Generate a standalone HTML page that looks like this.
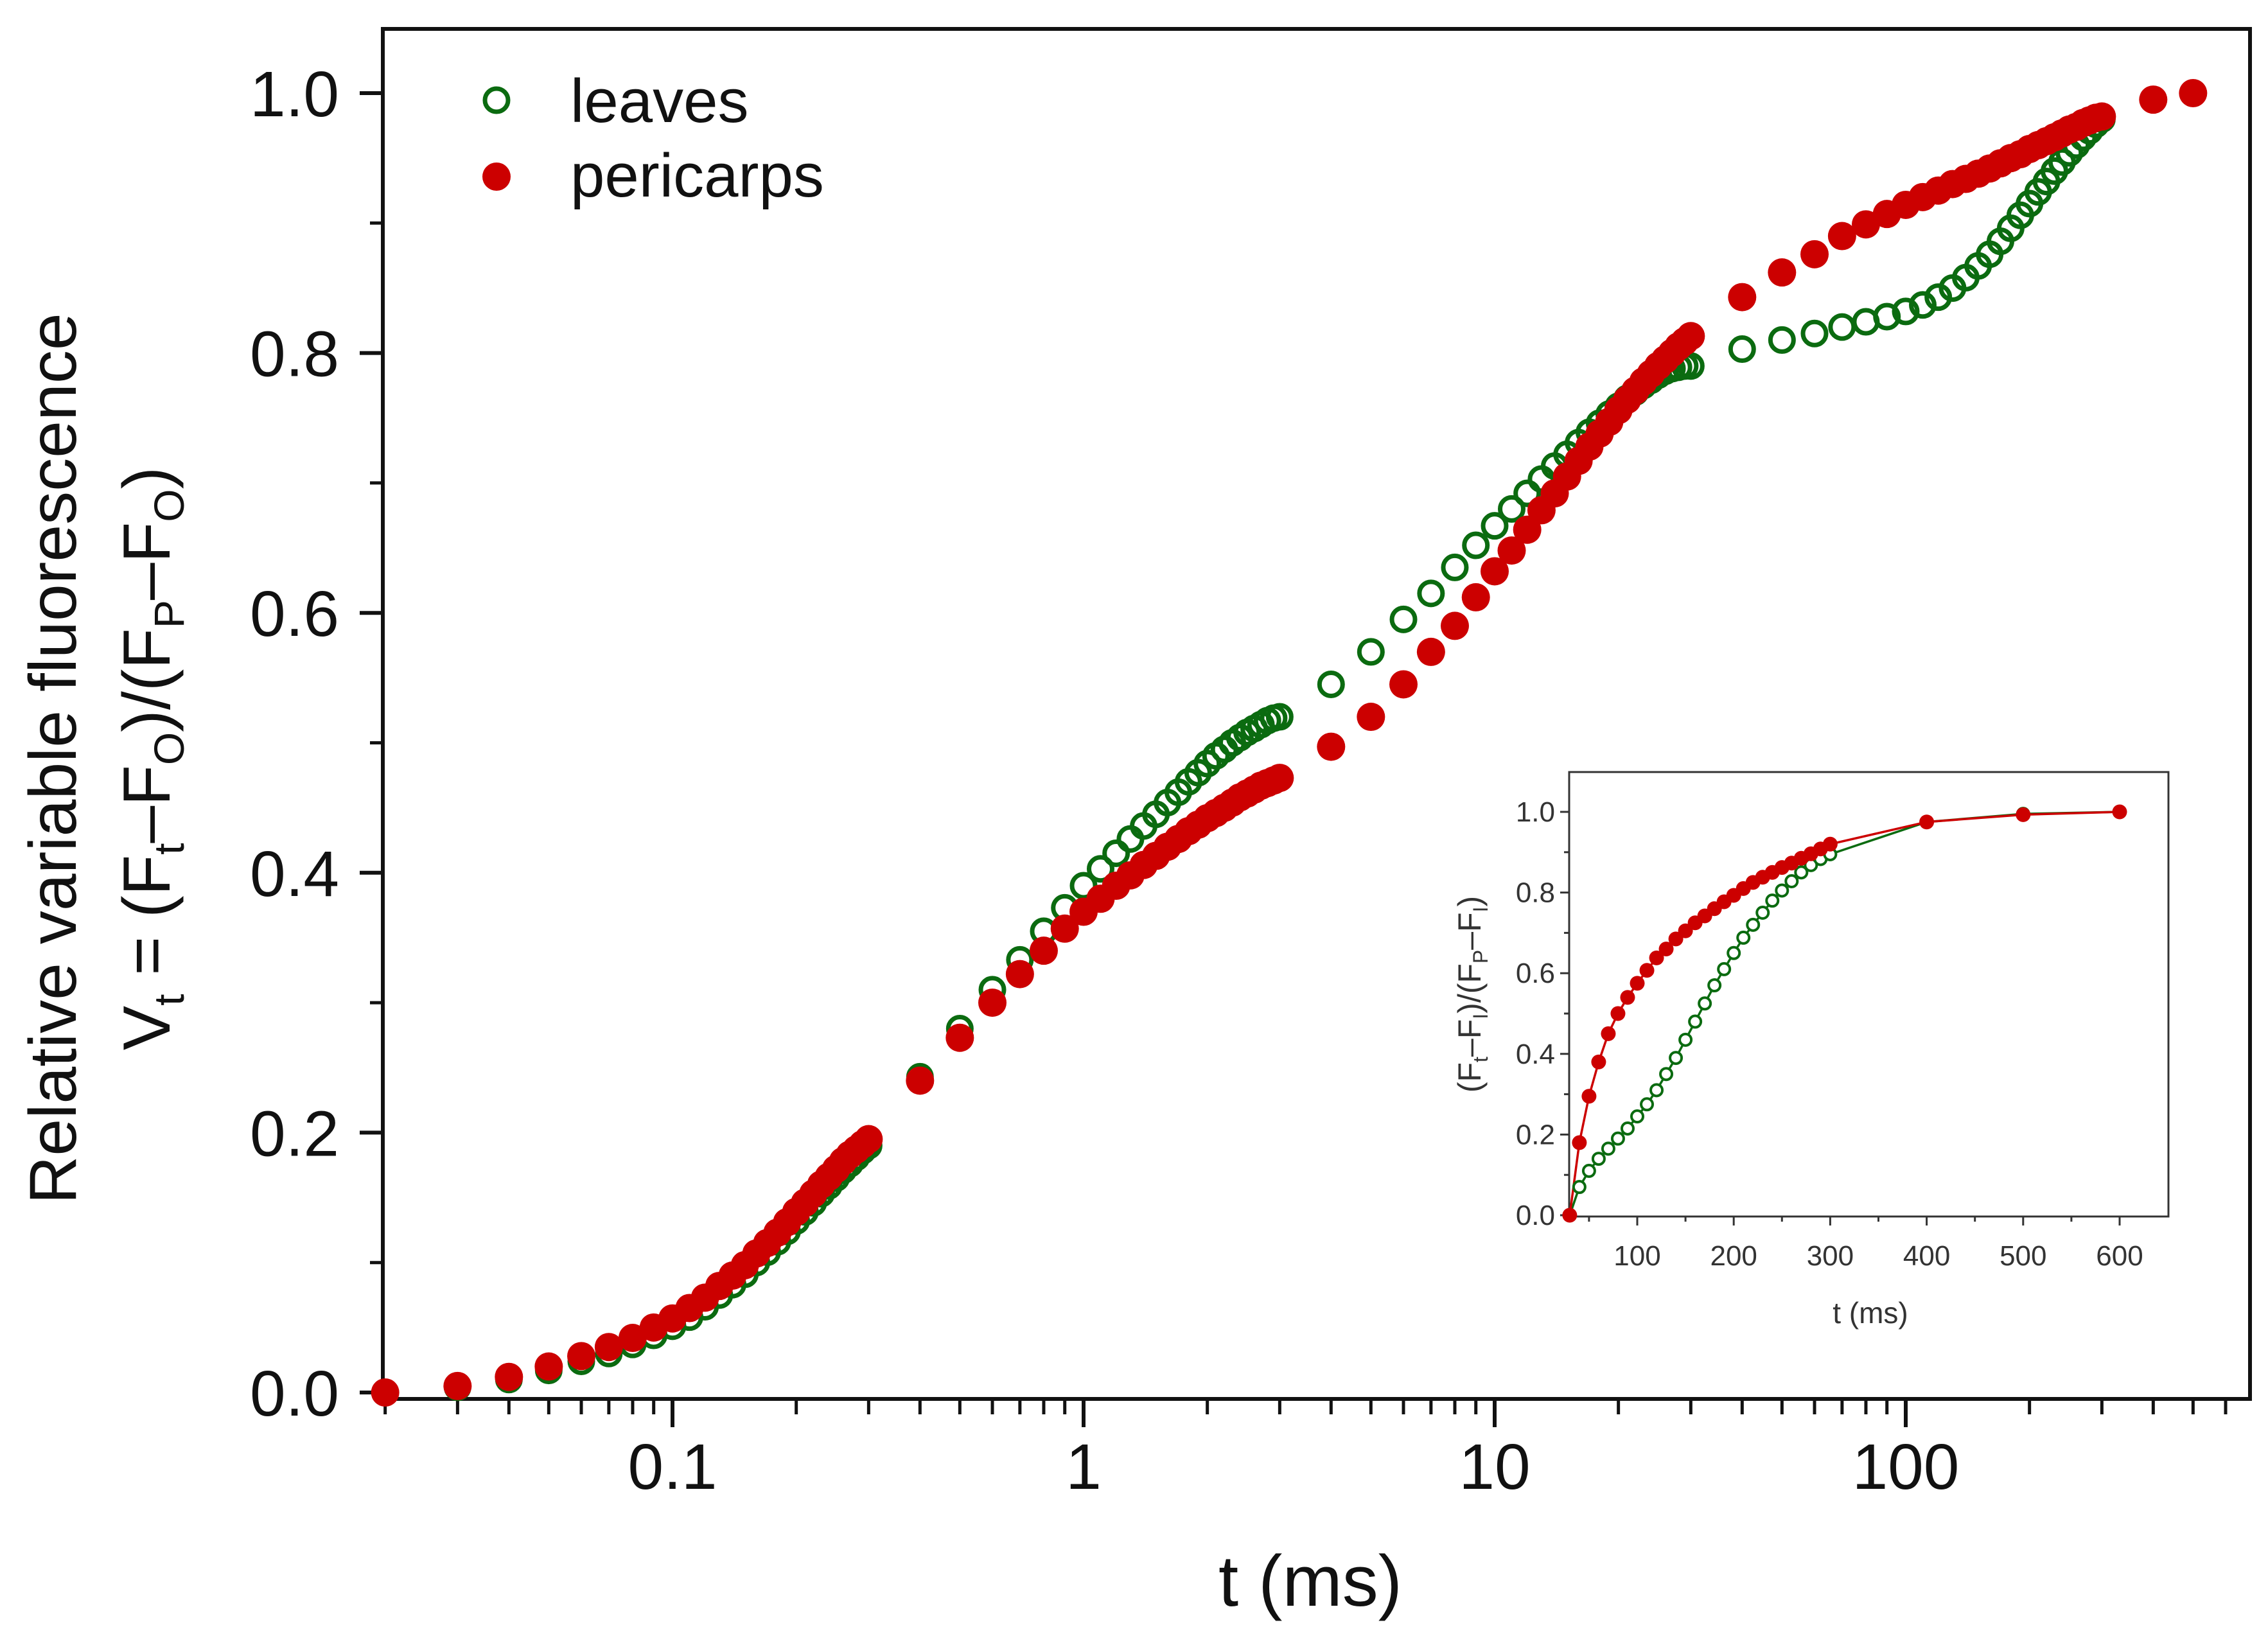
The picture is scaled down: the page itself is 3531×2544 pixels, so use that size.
<!DOCTYPE html>
<html><head><meta charset="utf-8">
<style>
html,body{margin:0;padding:0;background:#fff;}
svg{display:block;font-family:"Liberation Sans",Arial,sans-serif;}
</style></head>
<body>
<svg id="chart" width="3531" height="2544" viewBox="0 0 3531 2544" xmlns="http://www.w3.org/2000/svg">
<rect x="0" y="0" width="3531" height="2544" fill="#fff"/>
<g id="main-axes"></g>
<g id="main-data"></g>
<g id="inset"></g>
<g>
  <text transform="translate(118,1181) rotate(-90)" text-anchor="middle" font-size="104" fill="#111">Relative variable fluorescence</text>
  <text transform="translate(264,1181) rotate(-90)" text-anchor="middle" font-size="104" fill="#111">V<tspan font-size="66" dy="22">t</tspan><tspan dy="-22"> = (F</tspan><tspan font-size="66" dy="22">t</tspan><tspan dy="-22">–F</tspan><tspan font-size="66" dy="22">O</tspan><tspan dy="-22">)/(F</tspan><tspan font-size="66" dy="22">P</tspan><tspan dy="-22">–F</tspan><tspan font-size="66" dy="22">O</tspan><tspan dy="-22">)</tspan></text>
</g>
<text x="2040" y="2500" text-anchor="middle" font-size="112" fill="#111">t (ms)</text>
<g>
  <circle cx="773" cy="156" r="18" fill="none" stroke="#0b6b10" stroke-width="7"/>
  <text x="888" y="190" font-size="96" fill="#111">leaves</text>
  <circle cx="773" cy="275" r="22" fill="#cc0000"/>
  <text x="888" y="306" font-size="96" fill="#111">pericarps</text>
</g>
</svg>
<script>
// ---- Main chart data ----
const mainTimes = [0.02,0.03,0.04,0.05,0.06,0.07,0.08,0.09,0.1,
0.11,0.12,0.13,0.14,0.15,0.16,0.17,0.18,0.19,0.2,0.21,0.22,0.23,0.24,0.25,0.26,0.27,0.28,0.29,0.3,
0.4,0.5,0.6,0.7,0.8,0.9,1,
1.1,1.2,1.3,1.4,1.5,1.6,1.7,1.8,1.9,2,2.1,2.2,2.3,2.4,2.5,2.6,2.7,2.8,2.9,3,
4,5,6,7,8,9,10,
11,12,13,14,15,16,17,18,19,20,21,22,23,24,25,26,27,28,29,30,
40,50,60,70,80,90,100,
110,120,130,140,150,160,170,180,190,200,210,220,230,240,250,260,270,280,290,300];
const pericarpTimes = mainTimes.concat([400,500]);
const leavesValues = [0,0.004,0.01,0.017,0.024,0.03,0.037,0.044,0.051,
0.058,0.066,0.075,0.083,0.091,0.1,0.108,0.116,0.124,0.132,0.139,0.146,0.153,0.159,0.165,0.171,0.176,0.181,0.186,0.19,
0.243,0.28,0.31,0.333,0.355,0.373,0.39,
0.403,0.415,0.426,0.436,0.445,0.454,0.462,0.47,0.477,0.484,0.49,0.495,0.5,0.504,0.508,0.511,0.514,0.517,0.519,0.52,
0.545,0.57,0.595,0.615,0.635,0.652,0.667,
0.68,0.692,0.703,0.713,0.722,0.731,0.739,0.746,0.753,0.759,0.765,0.77,0.775,0.779,0.783,0.786,0.788,0.789,0.79,0.79,
0.803,0.81,0.815,0.82,0.824,0.828,0.832,
0.837,0.843,0.85,0.858,0.867,0.876,0.886,0.896,0.906,0.915,0.924,0.932,0.94,0.947,0.954,0.96,0.966,0.971,0.976,0.98];
const pericarpValues = [0,0.005,0.012,0.02,0.028,0.035,0.042,0.05,0.057,
0.065,0.073,0.082,0.09,0.098,0.107,0.115,0.123,0.131,0.139,0.146,0.153,0.16,0.166,0.172,0.178,0.183,0.187,0.191,0.195,
0.24,0.273,0.3,0.322,0.34,0.357,0.37,
0.38,0.39,0.398,0.406,0.413,0.42,0.426,0.432,0.437,0.442,0.446,0.45,0.454,0.458,0.461,0.464,0.467,0.469,0.471,0.473,
0.497,0.52,0.545,0.57,0.59,0.612,0.632,
0.648,0.664,0.679,0.692,0.705,0.717,0.728,0.738,0.747,0.756,0.764,0.771,0.778,0.784,0.79,0.795,0.8,0.805,0.809,0.813,
0.843,0.862,0.876,0.89,0.899,0.907,0.914,
0.92,0.925,0.93,0.934,0.938,0.942,0.946,0.95,0.953,0.957,0.96,0.963,0.966,0.969,0.972,0.974,0.977,0.979,0.981,0.982,
0.995,1.0];
const yTickLabels = ["0.0","0.2","0.4","0.6","0.8","1.0"];
const yTickValues = [0,0.2,0.4,0.6,0.8,1.0];
const xTickLabels = ["0.1","1","10","100"];
const xTickValues = [0.1,1,10,100];

// ---- Inset data ----
const insetTimes = [30,40,50,60,70,80,90,100,110,120,130,140,150,160,170,180,190,200,210,220,230,240,250,260,270,280,290,300,400,500,600];
const insetLeaves = [0,0.07,0.11,0.14,0.165,0.19,0.215,0.245,0.275,0.31,0.35,0.39,0.435,0.48,0.525,0.57,0.61,0.65,0.688,0.72,0.75,0.78,0.805,0.828,0.85,0.868,0.883,0.895,0.975,0.995,1.0];
const insetPericarps = [0,0.18,0.295,0.38,0.45,0.5,0.54,0.575,0.607,0.638,0.66,0.685,0.705,0.725,0.742,0.76,0.777,0.793,0.81,0.825,0.838,0.85,0.862,0.873,0.885,0.896,0.908,0.92,0.975,0.993,1.0];
const insetXTicks = [100,200,300,400,500,600];
const insetYTicks = [0,0.2,0.4,0.6,0.8,1.0];
const insetYLabels = ["0.0","0.2","0.4","0.6","0.8","1.0"];

const NS = "http://www.w3.org/2000/svg";
function mk(tag, attrs, parent){const e=document.createElementNS(NS,tag);for(const k in attrs)e.setAttribute(k,attrs[k]);parent.appendChild(e);return e;}

const L=596,R=3503,T=45,B=2178;
const xDec=640, x01=1047;
function xs(t){return x01+(Math.log10(t)+1)*xDec;}
const y0=2168, ySpan=2023;
function ys(v){return y0-v*ySpan;}

const ax=document.getElementById('main-axes');
const frame=mk('rect',{x:L,y:T,width:R-L,height:B-T,fill:'none',stroke:'#111','stroke-width':6},ax);


for(let i=0;i<yTickValues.length;i++){
  const y=ys(yTickValues[i]);
  const tk=mk('line',{x1:L-36,x2:L,y1:y,y2:y,stroke:'#111','stroke-width':6},ax);
  
  
  const lb=mk('text',{x:L-68,y:y+36,'text-anchor':'end','font-size':100,fill:'#111'},ax);
  lb.textContent=yTickLabels[i];
  
  
  if(i<yTickValues.length-1){
    const ym=ys(yTickValues[i]+0.1);
    const mt=mk('line',{x1:L-20,x2:L,y1:ym,y2:ym,stroke:'#111','stroke-width':5},ax);
    
    
  }
}
for(let d=-2;d<=2;d++){
  for(let m=1;m<=9;m++){
    const t=m*Math.pow(10,d);
    const x=xs(t);
    if(x<L-1||x>R+1)continue;
    const major=(m===1);
    const tk=mk('line',{x1:x,x2:x,y1:B,y2:B+(major?44:24),stroke:'#111','stroke-width':major?6:5},ax);
    
    
  }
}
for(let i=0;i<xTickValues.length;i++){
  const lb=mk('text',{x:xs(xTickValues[i]),y:2318,'text-anchor':'middle','font-size':100,fill:'#111'},ax);
  lb.textContent=xTickLabels[i];
  
  
}

const md=document.getElementById('main-data');
const gL=mk('g',{},md);


for(let i=0;i<mainTimes.length;i++){
  const c=mk('circle',{cx:xs(mainTimes[i]),cy:ys(leavesValues[i]),r:18,fill:'none',stroke:'#0b6b10','stroke-width':7},gL);
  
  
}
const gP=mk('g',{},md);


for(let i=0;i<pericarpTimes.length;i++){
  const c=mk('circle',{cx:xs(pericarpTimes[i]),cy:ys(pericarpValues[i]),r:22,fill:'#cc0000'},gP);
  
  
}

const IL=2443,IR=3376,IT=1202,IB=1894;
function ixs(t){return 2549+(t-100)*1.502;}
function iys(v){return 1892-v*628;}
const ins=document.getElementById('inset');
const ibg=mk('rect',{x:IL,y:IT,width:IR-IL,height:IB-IT,fill:'#fff',stroke:'#333','stroke-width':3},ins);


for(let i=0;i<insetYTicks.length;i++){
  const y=iys(insetYTicks[i]);
  const tk=mk('line',{x1:IL-14,x2:IL,y1:y,y2:y,stroke:'#333','stroke-width':3},ins);
  
  
  const lb=mk('text',{x:IL-22,y:y+15,'text-anchor':'end','font-size':44,fill:'#333'},ins);
  lb.textContent=insetYLabels[i];
  
  
  if(i<insetYTicks.length-1){
    const ym=iys(insetYTicks[i]+0.1);
    const mt=mk('line',{x1:IL-8,x2:IL,y1:ym,y2:ym,stroke:'#333','stroke-width':3},ins);
    
    
  }
}
for(let i=0;i<insetXTicks.length;i++){
  const x=ixs(insetXTicks[i]);
  const tk=mk('line',{x1:x,x2:x,y1:IB,y2:IB+14,stroke:'#333','stroke-width':3},ins);
  
  
  const mx=ixs(insetXTicks[i]-50);
  const mt=mk('line',{x1:mx,x2:mx,y1:IB,y2:IB+8,stroke:'#333','stroke-width':3},ins);
  
  
  const lb=mk('text',{x:x,y:1970,'text-anchor':'middle','font-size':44,fill:'#333'},ins);
  lb.textContent=String(insetXTicks[i]);
  
  
}
const ixt=mk('text',{x:2912,y:2060,'text-anchor':'middle','font-size':46,fill:'#333'},ins);
ixt.textContent='t (ms)';


const iyt=mk('text',{transform:'translate(2305,1548) rotate(-90)','text-anchor':'middle','font-size':50,fill:'#333'},ins);
iyt.innerHTML='(F<tspan font-size="32" dy="11">t</tspan><tspan dy="-11">–F</tspan><tspan font-size="32" dy="11">I</tspan><tspan dy="-11">)/(F</tspan><tspan font-size="32" dy="11">P</tspan><tspan dy="-11">–F</tspan><tspan font-size="32" dy="11">I</tspan><tspan dy="-11">)</tspan>';



let dl='',dp='';
for(let i=0;i<insetTimes.length;i++){
  dl+=(i?'L':'M')+ixs(insetTimes[i])+','+iys(insetLeaves[i]);
  dp+=(i?'L':'M')+ixs(insetTimes[i])+','+iys(insetPericarps[i]);
}
const ll=mk('path',{d:dl,fill:'none',stroke:'#0b6b10','stroke-width':3.5},ins);


const lp=mk('path',{d:dp,fill:'none',stroke:'#cc0000','stroke-width':3.5},ins);


for(let i=0;i<insetTimes.length;i++){
  const c=mk('circle',{cx:ixs(insetTimes[i]),cy:iys(insetLeaves[i]),r:9,fill:'#fff',stroke:'#0b6b10','stroke-width':4},ins);
  
  
}
for(let i=0;i<insetTimes.length;i++){
  const c=mk('circle',{cx:ixs(insetTimes[i]),cy:iys(insetPericarps[i]),r:11.5,fill:'#cc0000'},ins);
  
  
}
</script>
</body></html>
